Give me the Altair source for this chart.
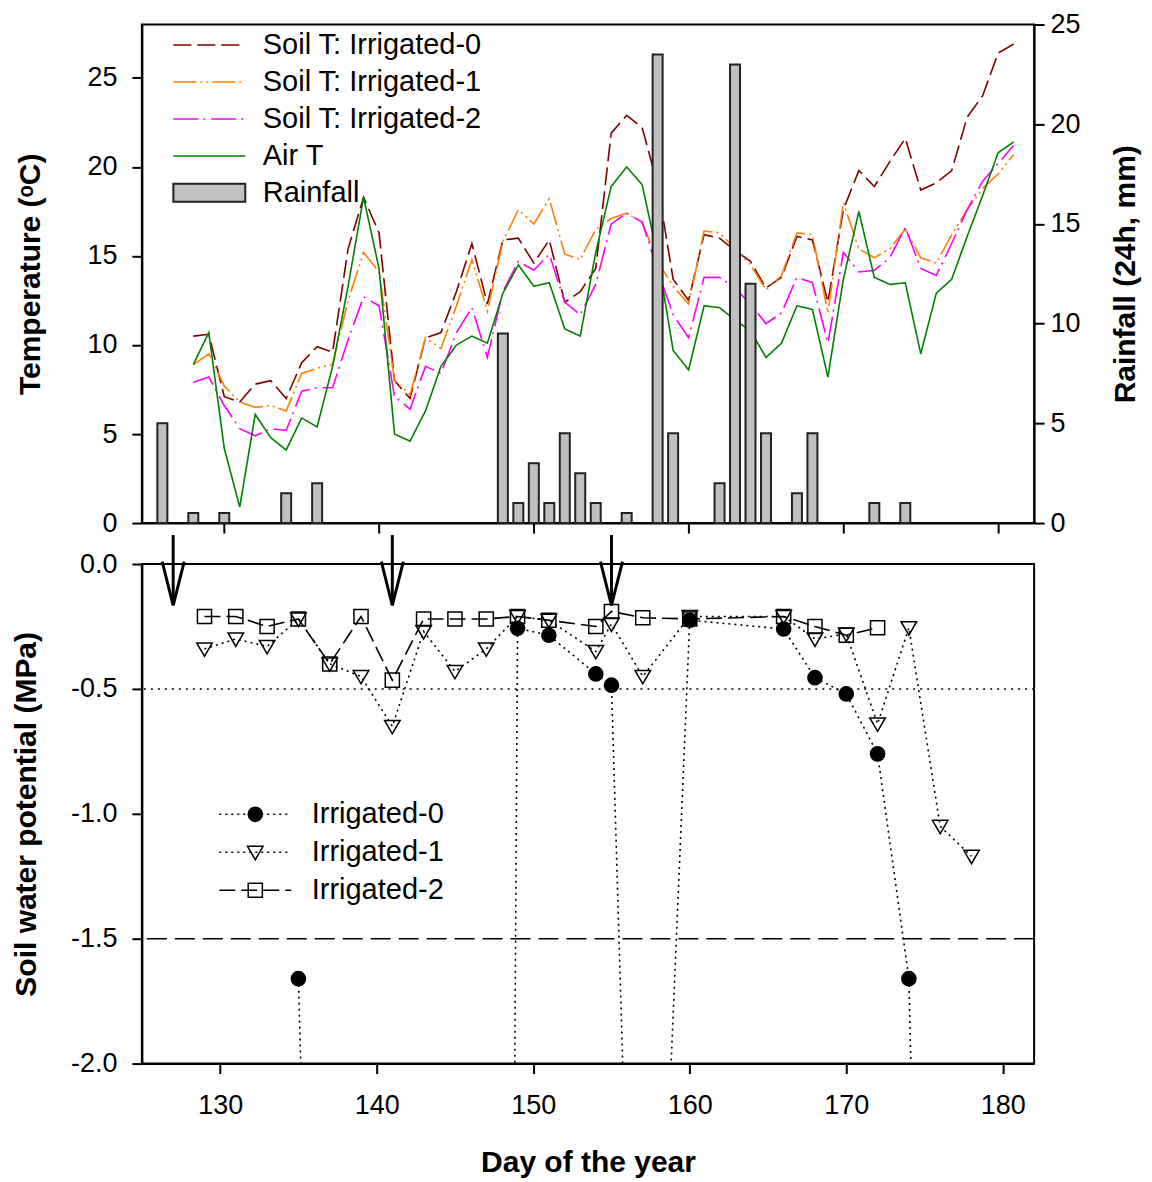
import altair as alt
import pandas as pd

FONT = "Liberation Sans"

# ---------------- data ----------------
days = list(range(128, 182))
series_names = ["Soil T: Irrigated-0", "Soil T: Irrigated-1", "Soil T: Irrigated-2", "Air T"]
soil_t0 = [10.5, 10.6, 7.1, 6.8, 7.8, 8.0, 7.0, 9.0, 9.9, 9.6,
           15.4, 18.3, 16.3, 8.0, 7.0, 10.4, 10.7, 13.0, 15.7, 12.3,
           15.9, 16.0, 14.6, 15.9, 12.4, 13.0, 14.3, 21.9, 22.9, 22.2,
           19.0, 13.7, 12.5, 16.2, 16.0, 15.3, 14.7, 13.2, 13.8, 16.1,
           15.9, 12.4, 17.6, 19.8, 18.9, 20.3, 21.6, 18.7, 19.1, 19.8,
           22.8, 24.0, 26.4, 26.9]
soil_t1 = [8.9, 9.5, 7.7, 6.8, 6.5, 6.6, 6.3, 8.4, 8.7, 8.9,
           12.5, 15.2, 14.1, 8.0, 7.2, 10.4, 9.8, 12.2, 14.8, 11.9,
           15.8, 17.6, 16.8, 18.2, 15.1, 14.8, 16.5, 17.1, 17.4, 16.9,
           14.7, 13.3, 12.3, 16.4, 16.3, 15.4, 14.5, 13.1, 13.9, 16.3,
           16.2, 11.8, 18.0, 15.4, 14.9, 15.4, 16.5, 14.9, 14.6, 16.2,
           17.6, 18.8, 19.6, 20.7]
soil_t2 = [7.9, 8.2, 6.6, 5.3, 4.9, 5.3, 5.2, 7.4, 7.6, 7.6,
           10.3, 12.7, 12.2, 7.1, 6.4, 8.8, 8.4, 10.7, 12.1, 9.3,
           13.0, 14.7, 14.2, 15.1, 12.4, 11.7, 13.4, 16.8, 17.4, 16.9,
           14.2, 11.7, 10.4, 13.8, 13.8, 13.2, 12.3, 11.2, 11.8, 13.8,
           13.5, 10.1, 15.2, 14.1, 14.2, 14.9, 16.6, 14.3, 13.9, 15.7,
           17.6, 19.2, 20.2, 21.2]
air_t = [8.9, 10.7, 4.2, 0.9, 6.1, 4.8, 4.1, 5.9, 5.4, 8.8,
         13.3, 18.3, 14.3, 5.0, 4.6, 6.3, 8.8, 10.0, 10.5, 10.1,
         12.9, 14.5, 13.3, 13.5, 10.9, 10.5, 15.2, 18.9, 20.0, 19.0,
         15.0, 9.7, 8.6, 12.2, 12.1, 11.4, 10.8, 9.3, 10.1, 12.2,
         12.0, 8.2, 13.7, 17.5, 13.8, 13.4, 13.5, 9.5, 12.9, 13.7,
         16.1, 18.4, 20.8, 21.4]

rain_days = [126, 128, 130, 134, 136, 148, 149, 150, 151, 152, 153, 154,
             156, 158, 159, 162, 163, 164, 165, 167, 168, 172, 174]
rain_mm = [5.0, 0.5, 0.5, 1.5, 2.0, 9.5, 1.0, 3.0, 1.0, 4.5, 2.5, 1.0,
           0.5, 23.5, 4.5, 2.0, 23.0, 12.0, 4.5, 1.5, 4.5, 1.0, 1.0]

swp_names = ["Irrigated-0", "Irrigated-1", "Irrigated-2"]
swp0_days = [135, 137, 147, 149, 151, 154, 155, 157, 160, 166, 168, 170, 172, 174, 176]
swp0_vals = [-1.66, -6.3, -20.0, -0.257, -0.285, -0.44, -0.485, -4.7, -0.225, -0.26,
             -0.455, -0.52, -0.76, -1.66, -7.0]
swp1_days = [129, 131, 133, 135, 137, 139, 141, 143, 145, 147, 149, 151, 154, 155,
             157, 160, 166, 168, 170, 172, 174, 176, 178]
swp1_vals = [-0.34, -0.30, -0.33, -0.22, -0.40, -0.45, -0.65, -0.27, -0.43, -0.34,
             -0.21, -0.225, -0.35, -0.24, -0.45, -0.21, -0.21, -0.30, -0.28, -0.64,
             -0.255, -1.05, -1.17]
swp2_days = [129, 131, 133, 135, 137, 139, 141, 143, 145, 147, 149, 151, 154, 155,
             157, 160, 166, 168, 170, 172]
swp2_vals = [-0.21, -0.21, -0.25, -0.22, -0.40, -0.21, -0.465, -0.22, -0.22, -0.22,
             -0.21, -0.225, -0.25, -0.19, -0.215, -0.22, -0.21, -0.25, -0.285, -0.255]

irrigation_days = [127, 141, 155]
thresholds = [-0.5, -1.5]

x_ticks = [130, 140, 150, 160, 170, 180]

# ---------------- tables ----------------
temp_df = pd.DataFrame({
    "day": days * 4,
    "temp": soil_t0 + soil_t1 + soil_t2 + air_t,
    "series": [s for s in series_names for _ in days],
})
rain_df = pd.DataFrame({"day": rain_days, "rain": rain_mm, "label": "Rainfall"})
swp_df = pd.DataFrame({
    "day": swp0_days + swp1_days + swp2_days,
    "swp": swp0_vals + swp1_vals + swp2_vals,
    "series": ["Irrigated-0"] * len(swp0_days) + ["Irrigated-1"] * len(swp1_days)
              + ["Irrigated-2"] * len(swp2_days),
})
# marker legend keys kept distinct so that Vega-Lite does not merge the two legends
marker_names = [n + " " for n in swp_names]
swp_df["mseries"] = swp_df["series"] + " "
irr_df = pd.DataFrame({"day": irrigation_days})

x_scale = alt.Scale(domain=[125, 182], nice=False, zero=False)

# ---------------- top panel ----------------
temp_colors = ["#800000", "#ff8000", "#ff00ff", "#008000"]
temp_dashes = [[18, 6], [23, 4, 2, 4, 2, 4], [25, 5, 2, 6], [1, 0]]
top_leg = dict(title=None, orient="none", legendX=26, legendY=6,
               symbolType="M-1,0H7", symbolSize=324, symbolStrokeWidth=1.5,
               labelOffset=66, labelFontSize=29, labelLimit=600, rowPadding=7,
               padding=0)

lines = alt.Chart(temp_df).mark_line(strokeWidth=1.6).encode(
    x=alt.X("day:Q", scale=x_scale,
            axis=alt.Axis(values=x_ticks, labels=False, title=None)),
    y=alt.Y("temp:Q", scale=alt.Scale(domain=[0, 28], nice=False),
            axis=alt.Axis(values=[0, 5, 10, 15, 20, 25], title="Temperature (ᵒC)",
                          labelPadding=15, titlePadding=41)),
    color=alt.Color("series:N", scale=alt.Scale(domain=series_names, range=temp_colors),
                    legend=alt.Legend(**top_leg)),
    strokeDash=alt.StrokeDash("series:N", scale=alt.Scale(domain=series_names, range=temp_dashes),
                              legend=alt.Legend(**top_leg)),
)

bars = alt.Chart(rain_df).mark_bar(size=10, stroke="#222222", strokeWidth=2).encode(
    x=alt.X("day:Q", scale=x_scale),
    y=alt.Y("rain:Q", scale=alt.Scale(domain=[0, 25], nice=False),
            axis=alt.Axis(orient="right", values=[0, 5, 10, 15, 20, 25],
                          title="Rainfall (24h, mm)", titleAngle=270, titleBaseline="top",
                          labelPadding=6, titlePadding=30)),
    fill=alt.Fill("label:N", scale=alt.Scale(domain=["Rainfall"], range=["#c0c0c0"]),
                  legend=alt.Legend(title=None, orient="none", legendX=26, legendY=6 + 4 * 37,
                                    symbolType="M-1,-1H7V1H-1Z", symbolSize=324,
                                    symbolStrokeColor="#222222", symbolStrokeWidth=2,
                                    labelOffset=66, labelFontSize=29, padding=0)),
)

top = alt.layer(lines, bars).resolve_scale(y="independent").properties(width=893, height=499)

# ---------------- bottom panel ----------------
ref_lines = alt.layer(
    alt.Chart(pd.DataFrame({"y": [thresholds[0]]})).mark_rule(
        color="black", strokeWidth=1.5, strokeDash=[2, 5]).encode(y="y:Q"),
    alt.Chart(pd.DataFrame({"y": [thresholds[1]]})).mark_rule(
        color="black", strokeWidth=1.5, strokeDash=[20, 8]).encode(y="y:Q"),
)

bot_line_leg = dict(title=None, orient="none", legendX=72, legendY=236,
                    symbolType="M-1,0H7", symbolSize=324, symbolStrokeWidth=1.5,
                    symbolStrokeColor="black", labelOffset=69, labelFontSize=29,
                    rowPadding=8, padding=0)
bot_mark_leg = dict(title=None, orient="none", legendX=99, legendY=236,
                    symbolSize=200, symbolStrokeWidth=1.5, symbolStrokeColor="black",
                    labelExpr="''", labelFontSize=29, rowPadding=8, padding=0)

y_swp = alt.Y("swp:Q", scale=alt.Scale(domain=[-2, 0], nice=False),
              axis=alt.Axis(values=[0, -0.5, -1, -1.5, -2],
                            labelExpr="replace(format(datum.value, '.1f'), '\u2212', '-')",
                            title="Soil water potential (MPa)", labelPadding=15,
                            titlePadding=29))
x_bot = alt.X("day:Q", scale=x_scale,
              axis=alt.Axis(values=x_ticks, title="Day of the year",
                            labelPadding=19, titlePadding=29))

tri_down = "M-1.1,-0.85L1.1,-0.85L0,1.05Z"
swp_lines = alt.Chart(swp_df).mark_line(color="black", strokeWidth=1.6, clip=True).encode(
    x=x_bot, y=y_swp,
    strokeDash=alt.StrokeDash("series:N",
                              scale=alt.Scale(domain=swp_names, range=[[2, 4], [2, 4], [16, 6]]),
                              legend=alt.Legend(**bot_line_leg)),
    detail="series:N",
)
swp_points = alt.Chart(swp_df).mark_point(strokeWidth=1.5, size=200,
                                          opacity=1, clip=True).encode(
    x=x_bot, y=y_swp,
    shape=alt.Shape("mseries:N",
                    scale=alt.Scale(domain=marker_names, range=["circle", tri_down, "square"]),
                    legend=alt.Legend(**bot_mark_leg)),
    fill=alt.Fill("mseries:N",
                  scale=alt.Scale(domain=marker_names, range=["black", "transparent", "transparent"]),
                  legend=alt.Legend(**bot_mark_leg)),
    stroke=alt.Stroke("mseries:N",
                      scale=alt.Scale(domain=marker_names, range=["black", "black", "black"]),
                      legend=alt.Legend(**bot_mark_leg)),
)

arrow_shaft = alt.Chart(irr_df).mark_rule(color="black", strokeWidth=3).encode(
    x=alt.X("day:Q", scale=x_scale), y=alt.value(-29), y2=alt.value(41))
arrow_head = alt.Chart(irr_df).mark_point(shape="M-1,-2L0,2L1,-2", size=484, filled=False,
                                          color="black", strokeWidth=3, opacity=1).encode(
    x=alt.X("day:Q", scale=x_scale), y=alt.value(19.5))

bottom = alt.layer(ref_lines, swp_lines, swp_points, arrow_shaft, arrow_head).properties(
    width=893, height=500)

chart = alt.vconcat(top, bottom, spacing=41, bounds="flush").resolve_scale(
    x="independent", y="independent", color="independent", fill="independent",
    stroke="independent", strokeDash="independent", shape="independent",
).resolve_legend(
    color="independent", fill="independent", stroke="independent",
    strokeDash="independent", shape="independent",
).properties(
    padding={"left": 10, "top": 9, "right": 10, "bottom": 10}
).configure_view(stroke="black", strokeWidth=2).configure_axis(
    labelFont=FONT, titleFont=FONT, labelFontSize=27, titleFontSize=30,
    titleFontWeight="bold", labelColor="black", titleColor="black",
    domainColor="black", domainWidth=2, tickColor="black", tickWidth=2, tickSize=10,
    grid=False,
).configure_legend(labelFont=FONT, labelColor="black")

chart.save("out.html", embed_options={"renderer": "svg", "actions": False})
